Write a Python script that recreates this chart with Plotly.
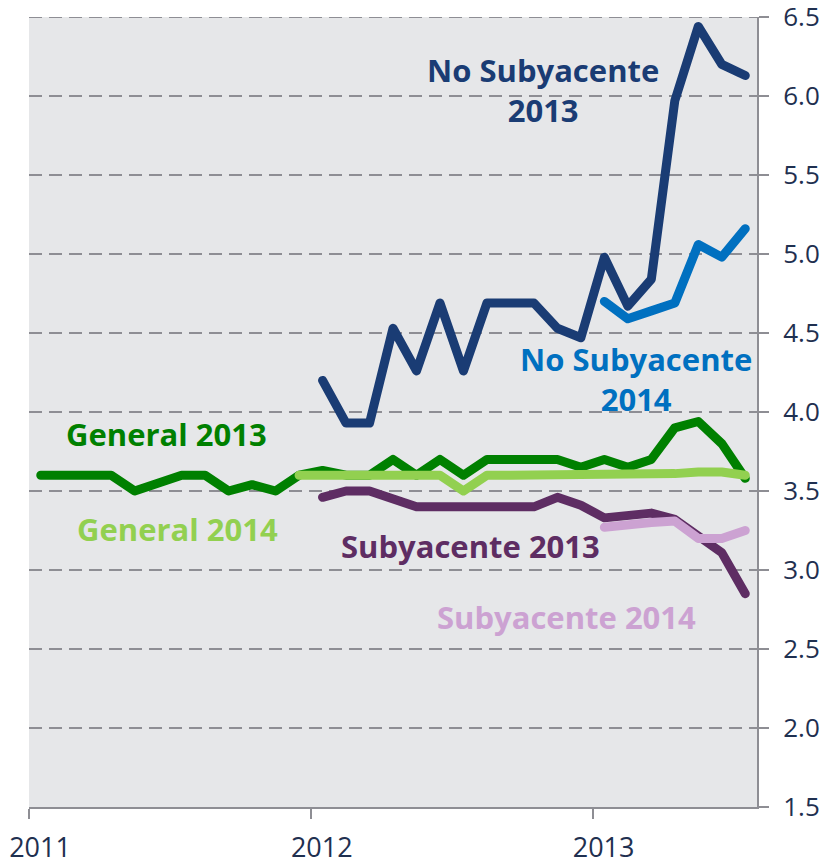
import plotly.graph_objects as go

# Months since Jan 2011 (mid-month positions), Jan 2011 .. Jul 2013
months = [i + 0.5 for i in range(31)]

general_2013 = [3.6, 3.6, 3.6, 3.6, 3.5, 3.55, 3.6, 3.6, 3.5, 3.54, 3.5, 3.6,
                3.63, 3.6, 3.6, 3.7, 3.6, 3.7, 3.6, 3.7, 3.7, 3.7, 3.7, 3.65,
                3.7, 3.65, 3.7, 3.9, 3.94, 3.8, 3.58]
general_2014 = [None] * 11 + [3.6, 3.6, 3.6, 3.6, 3.6, 3.6, 3.6, 3.5, 3.6, 3.6,
                              3.6, 3.6, 3.6, 3.6, 3.6, 3.6, 3.61, 3.62, 3.62, 3.6, 3.68]
subyacente_2013 = [None] * 12 + [3.46, 3.5, 3.5, 3.45, 3.4, 3.4, 3.4, 3.4, 3.4, 3.4,
                                 3.46, 3.41, 3.33, 3.35, 3.36, 3.32, 3.21, 3.11, 2.85]
subyacente_2014 = [None] * 24 + [3.27, 3.29, 3.3, 3.31, 3.2, 3.2, 3.25]
no_subyacente_2013 = [None] * 12 + [4.2, 3.93, 3.93, 4.53, 4.26, 4.69, 4.26, 4.69, 4.69, 4.69,
                                    4.53, 4.47, 4.98, 4.67, 4.84, 5.97, 6.44, 6.2, 6.13]
no_subyacente_2014 = [None] * 24 + [4.7, 4.59, 4.64, 4.69, 5.06, 4.98, 5.16]

year_ticks = [0, 12, 24]
year_labels = ["2011", "2012", "2013"]
y_ticks = [1.5, 2.0, 2.5, 3.0, 3.5, 4.0, 4.5, 5.0, 5.5, 6.0, 6.5]
y_labels = ["1.5", "2.0", "2.5", "3.0", "3.5", "4.0", "4.5", "5.0", "5.5", "6.0", "6.5"]

C_NAVY = "#1A3C74"
C_BLUE = "#0070C0"
C_DGREEN = "#008000"
C_LGREEN = "#92D050"
C_PURPLE = "#5E2D63"
C_LPURPLE = "#CCA2D2"
C_GRID = "#8E8E94"

fig = go.Figure()
series = [
    ("General 2013", general_2013, C_DGREEN),
    ("General 2014", general_2014, C_LGREEN),
    ("Subyacente 2013", subyacente_2013, C_PURPLE),
    ("Subyacente 2014", subyacente_2014, C_LPURPLE),
    ("No Subyacente 2014", no_subyacente_2014, C_BLUE),
    ("No Subyacente 2013", no_subyacente_2013, C_NAVY),
]
for name, vals, col in series:
    fig.add_trace(go.Scatter(x=months, y=vals, mode="lines", name=name,
                             line=dict(color=col, width=9), connectgaps=False,
                             showlegend=False))

labels = [
    ("No Subyacente<br>2013", 21.9, 6.04, C_NAVY),
    ("No Subyacente<br>2014", 25.86, 4.21, C_BLUE),
    ("General 2013", 5.87, 3.86, C_DGREEN),
    ("General 2014", 6.34, 3.26, C_LGREEN),
    ("Subyacente 2013", 18.78, 3.15, C_PURPLE),
    ("Subyacente 2014", 22.88, 2.70, C_LPURPLE),
]
for txt, x, y, col in labels:
    fig.add_annotation(x=x, y=y, xref="x", yref="y", text="<b>" + txt + "</b>",
                       showarrow=False, font=dict(family="Open Sans", size=31, color=col),
                       xanchor="center", yanchor="middle", align="center")

# top gridline (plotly omits gridlines at the very edge of the range)
fig.add_shape(type="line", xref="paper", yref="y", x0=0, x1=1, y0=6.5, y1=6.5,
              line=dict(color=C_GRID, width=2, dash="13px,7px"), layer="below")

fig.update_layout(
    width=820, height=857,
    margin=dict(l=21, r=71, t=9, b=58, autoexpand=False),
    paper_bgcolor="white",
    plot_bgcolor="#E6E7E9",
    font=dict(family="Open Sans", size=26, color="#1F3050"),
)
fig.update_xaxes(
    range=[0, 31], tickvals=year_ticks, ticktext=year_labels,
    showgrid=False, zeroline=False, automargin=False,
    showline=True, linecolor=C_GRID, linewidth=2,
    ticks="outside", ticklen=10, tickwidth=2, tickcolor=C_GRID,
    ticklabelshift=11, ticklabelstandoff=6, ticklabeloverflow="allow",
    tickfont=dict(size=27, color="#1F3050"),
)
fig.update_yaxes(
    side="right", range=[1.5, 6.5], tickvals=y_ticks, ticktext=y_labels,
    showgrid=True, gridcolor=C_GRID, gridwidth=2, griddash="13px,7px",
    zeroline=False, automargin=False,
    showline=True, linecolor=C_GRID, linewidth=2,
    ticks="outside", ticklen=10, tickwidth=2, tickcolor=C_GRID,
    ticklabelstandoff=9, ticklabeloverflow="allow",
    tickfont=dict(size=26, color="#1F3050"),
)

post = """
document.querySelectorAll('.scatterlayer .js-line').forEach(function(p){
  p.style.strokeLinejoin='round'; p.style.strokeLinecap='round';
});
"""
fig.write_html("out.html", post_script=post)
